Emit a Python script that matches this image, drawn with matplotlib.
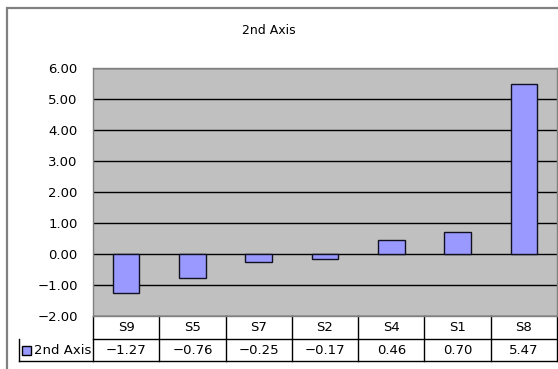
import matplotlib.pyplot as plt
from matplotlib.patches import Rectangle
from matplotlib.transforms import blended_transform_factory

# Dati della serie
categories = ['S9', 'S5', 'S7', 'S2', 'S4', 'S1', 'S8']
values = [-1.27, -0.76, -0.25, -0.17, 0.46, 0.70, 5.47]
series_name = '2nd Axis'
bar_color = '#9999FF'

W, H = 558, 369
fig = plt.figure(figsize=(W / 100, H / 100), dpi=100)
plt.rcParams['font.family'] = ['DejaVu Sans']

# Bordo esterno del grafico
fig.patches.append(Rectangle((7 / W, -0.1), 1.2, 1 - 8 / H + 0.1,
                             transform=fig.transFigure, fill=False,
                             edgecolor='#808080', linewidth=1.6))

fig.text(269 / W, 1 - 30 / H, series_name, ha='center', va='center', fontsize=9)

# Area del grafico
left, right, top, bottom = 93, 557, 68, 316
ax = fig.add_axes([left / W, 1 - bottom / H, (right - left) / W, (bottom - top) / H])
ax.set_facecolor('#C0C0C0')
x = range(len(categories))
ax.bar(x, values, width=0.4, color=bar_color, edgecolor='#101020', linewidth=1, zorder=3)
ax.set_xlim(-0.5, len(categories) - 0.5)
ax.set_ylim(-2, 6)
ax.set_yticks(range(-2, 7))
ax.set_yticklabels([f'{v:.2f}'.replace('-', '\u2212') for v in range(-2, 7)], fontsize=9.5)
ax.yaxis.grid(True, color='black', linewidth=1)
ax.set_axisbelow(True)
ax.set_xticks([])
ax.tick_params(axis='y', length=0, pad=11)
for s in ax.spines.values():
    s.set_color('#808080')
    s.set_linewidth(1)

# Tabella dati sotto il grafico
ph = bottom - top
r1 = -23 / ph
r2 = -45 / ph
leg_left = (19 - left) / (right - left)
tb = blended_transform_factory(ax.transData, ax.transAxes)
ta = ax.transAxes
lk = dict(color='black', linewidth=1, clip_on=False)
ax.plot([0, 1], [r1, r1], transform=ta, **lk)
ax.plot([leg_left, 1], [r2, r2], transform=ta, **lk)
ax.plot([leg_left, leg_left], [r1, r2], transform=ta, **lk)
for i in range(len(categories) + 1):
    ax.plot([i - 0.5, i - 0.5], [0, r2], transform=tb, **lk)
for i, (c, v) in enumerate(zip(categories, values)):
    ax.text(i, r1 / 2, c, transform=tb, ha='center', va='center', fontsize=9.5)
    ax.text(i, (r1 + r2) / 2, f'{v:.2f}'.replace('-', '\u2212'), transform=tb,
            ha='center', va='center', fontsize=9.5)

# Legenda nella tabella
ax.add_patch(Rectangle(((22 - left) / (right - left), (r1 + r2) / 2 - 4.5 / ph),
                       9 / (right - left), 9 / ph, transform=ta, clip_on=False,
                       facecolor=bar_color, edgecolor='black', linewidth=1))
ax.text((34 - left) / (right - left), (r1 + r2) / 2, series_name, transform=ta,
        ha='left', va='center', fontsize=9.5)

fig.savefig('out.png', dpi=100, facecolor='white')
